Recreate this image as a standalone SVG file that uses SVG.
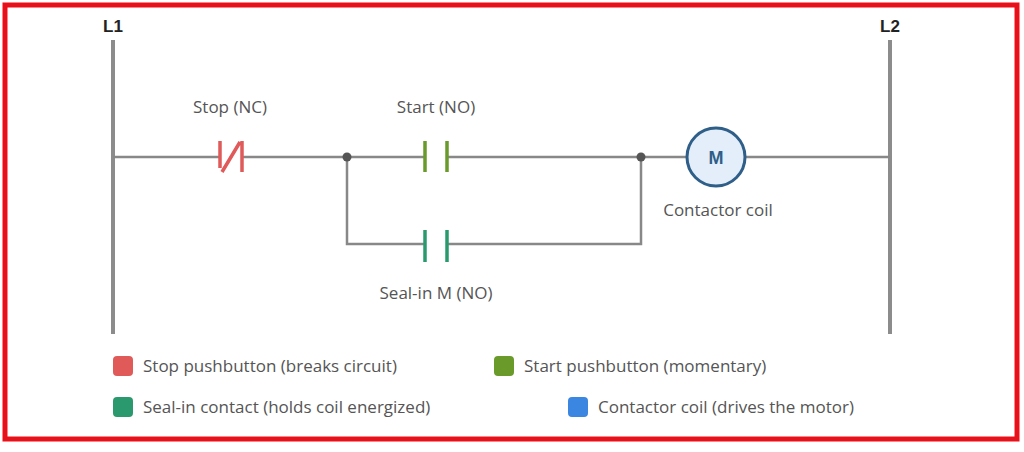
<svg xmlns="http://www.w3.org/2000/svg" width="1024" height="452" viewBox="0 0 1024 452">
<style>
.w{stroke:#888;stroke-width:2.5;fill:none}
.r{stroke:#8c8c8c;stroke-width:4;fill:none}
.t{font-family:"Open Sans","Liberation Sans",sans-serif;font-size:17px;fill:#555}
.h{font-family:"Liberation Sans",sans-serif;font-size:17px;font-weight:bold;fill:#222}
</style>
<rect x="0" y="0" width="1024" height="452" fill="#fff"/>
<rect x="5" y="5" width="1012" height="434" fill="none" stroke="#e8111a" stroke-width="5"/>
<g id="rails">
<line class="r" x1="113" y1="40" x2="113" y2="334"/>
<line class="r" x1="890" y1="40" x2="890" y2="334"/>
<text class="h" x="113" y="32" text-anchor="middle">L1</text>
<text class="h" x="890" y="32" text-anchor="middle">L2</text>
</g>
<g id="connectors">
<line class="w" x1="113" y1="157" x2="219" y2="157"/>
<line class="w" x1="243" y1="157" x2="424" y2="157"/>
<line class="w" x1="447" y1="157" x2="687" y2="157"/>
<line class="w" x1="745" y1="157" x2="890" y2="157"/>
<polyline class="w" points="347,157 347,244 424,244"/>
<polyline class="w" points="447,244 641,244 641,157"/>
<circle cx="347" cy="157" r="4.5" fill="#555"/>
<circle cx="641" cy="157" r="4.5" fill="#555"/>
</g>
<g id="stop">
<path d="M220 141V168M222 172L240 142M242 141V172" stroke="#e05a5a" stroke-width="3.5" fill="none"/>
<text class="t" x="230" y="113" text-anchor="middle">Stop (NC)</text>
</g>
<g id="start">
<path d="M425 141V172M447 141V172" stroke="#6a9a2a" stroke-width="3.5"/>
<text class="t" x="436" y="113" text-anchor="middle">Start (NO)</text>
</g>
<g id="seal">
<path d="M425 230V262M447 230V262" stroke="#2a9a6e" stroke-width="3.5"/>
<text class="t" x="436" y="299" text-anchor="middle">Seal-in M (NO)</text>
</g>
<g id="coil">
<circle cx="716" cy="157" r="29" fill="#e4eefa" stroke="#2f5f88" stroke-width="3"/>
<text x="716" y="164" text-anchor="middle" font-family="Liberation Sans,sans-serif" font-size="18" font-weight="bold" fill="#2f5f88">M</text>
<text class="t" x="718" y="216" text-anchor="middle">Contactor coil</text>
</g>
<g id="legend">
<rect x="113" y="356" width="20" height="20" rx="4" fill="#e05a5a"/>
<text class="t" x="143" y="372">Stop pushbutton (breaks circuit)</text>
<rect x="494" y="356" width="20" height="20" rx="4" fill="#6a9a2a"/>
<text class="t" x="524" y="372">Start pushbutton (momentary)</text>
<rect x="113" y="397" width="20" height="20" rx="4" fill="#2a9a6e"/>
<text class="t" x="143" y="413">Seal-in contact (holds coil energized)</text>
<rect x="568" y="397" width="20" height="20" rx="4" fill="#3a86e0"/>
<text class="t" x="598" y="413">Contactor coil (drives the motor)</text>
</g>
</svg>
